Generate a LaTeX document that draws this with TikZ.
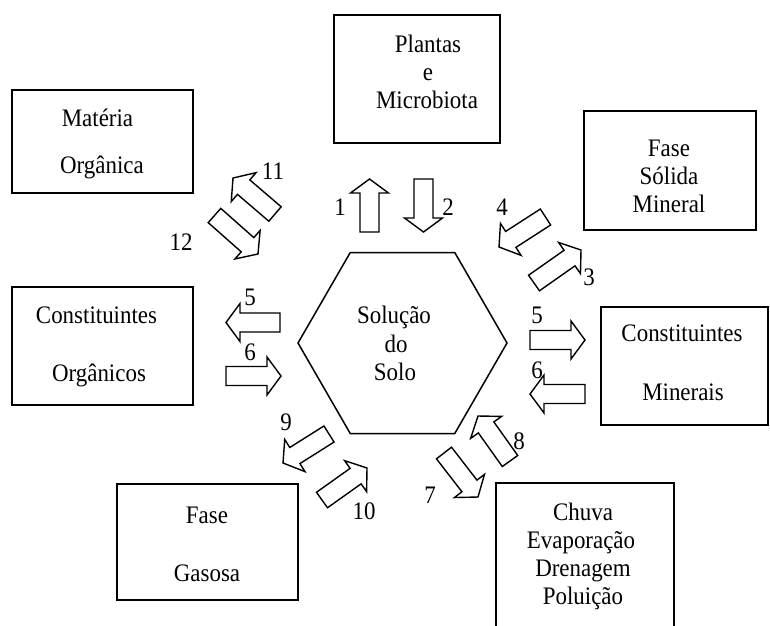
\documentclass[tikz,border=0pt]{standalone}
\usepackage{fontspec}
\setmainfont{Liberation Serif}[FakeStretch=0.91]
\usetikzlibrary{calc,shapes.geometric}
\tikzset{
  boxshape/.style={draw, line width=1.5pt, inner sep=0pt},
  txt/.style={anchor=base, inner sep=0pt, font=\fontsize{25.2}{28}\selectfont},
  num/.style={inner sep=0pt, font=\fontsize{25.2}{28}\selectfont},
  arrowline/.style={draw, line width=1.4pt, line join=miter, fill=white},
}
\newcommand{\blockarr}[2]{%
  \coordinate (bT) at #1; \coordinate (bP) at #2;
  \coordinate (bB) at ($(bP)!14pt!(bT)$);
  \path[arrowline] ($(bT)!9.5pt!90:(bP)$) -- ($(bB)!9.5pt!-90:(bT)$) -- ($(bB)!19pt!-90:(bT)$) -- (bP)
    -- ($(bB)!19pt!90:(bT)$) -- ($(bB)!9.5pt!90:(bT)$) -- ($(bT)!9.5pt!-90:(bP)$) -- cycle;}
\begin{document}
\begin{tikzpicture}[x=1pt,y=-1pt]
\useasboundingbox (0,0) rectangle (770,625);
\clip (0,0) rectangle (770,625);
% boxes
\node[boxshape, minimum width=166pt, minimum height=128pt] (plantas) at (417,79) {};
\node[boxshape, minimum width=181pt, minimum height=103pt] (materia) at (102.5,141.5) {};
\node[boxshape, minimum width=181pt, minimum height=118pt] (corg) at (102.5,346) {};
\node[boxshape, minimum width=181pt, minimum height=116pt] (gas) at (207.5,542) {};
\node[boxshape, minimum width=178pt, minimum height=170pt] (chuva) at (585,568) {};
\node[boxshape, minimum width=172pt, minimum height=119pt] (solida) at (670,170.5) {};
\node[boxshape, minimum width=167pt, minimum height=118pt] (cmin) at (684.5,366) {};
\node[draw, line width=1.5pt, regular polygon, regular polygon sides=6, minimum size=209pt, inner sep=0pt] (sol) at (402.5,343) {};
% texts
\node[txt] (t1a) at (428,52) {Plantas};
\node[txt] (t1b) at (428,80) {e};
\node[txt] (t1c) at (427,108) {Microbiota};
\node[txt] (t2a) at (97.5,126) {Matéria};
\node[txt] (t2b) at (102,173) {Orgânica};
\node[txt] (t3a) at (96.5,323) {Constituintes};
\node[txt] (t3b) at (99,381) {Orgânicos};
\node[txt] (t4a) at (394,323) {Solução};
\node[txt] (t4b) at (396,352) {do};
\node[txt] (t4c) at (395,380) {Solo};
\node[txt] (t5a) at (669,156) {Fase};
\node[txt] (t5b) at (669,184) {Sólida};
\node[txt] (t5c) at (669,212) {Mineral};
\node[txt] (t6a) at (682,341) {Constituintes};
\node[txt] (t6b) at (683,400) {Minerais};
\node[txt] (t7a) at (207,523) {Fase};
\node[txt] (t7b) at (207,581) {Gasosa};
\node[txt] (t8a) at (583,520) {Chuva};
\node[txt] (t8b) at (581,548) {Evaporação};
\node[txt] (t8c) at (583,576) {Drenagem};
\node[txt] (t8d) at (583,604) {Poluição};
% arrows
\blockarr{(369.5,232)}{(369.5,179)}
\blockarr{(423.5,179)}{(423.5,232)}
\blockarr{(275,214)}{(233,178)}
\blockarr{(214.5,215.5)}{(258,254)}
\blockarr{(545.5,217)}{(499,247)}
\blockarr{(534,283)}{(581,250)}
\blockarr{(280,322.5)}{(226,322.5)}
\blockarr{(226,376)}{(281,376)}
\blockarr{(530,340)}{(585,340)}
\blockarr{(585,394)}{(530,394)}
\blockarr{(329,434)}{(283,463)}
\blockarr{(322,500)}{(367,468)}
\blockarr{(510,461)}{(478,416)}
\blockarr{(444,453)}{(478,497)}
% numbers
\node[num] (n1) at (340,207) {1};
\node[num] (n2) at (448,207) {2};
\node[num] (n11) at (273,171) {11};
\node[num] (n12) at (181,242) {12};
\node[num] (n4) at (502,207) {4};
\node[num] (n3) at (589,277) {3};
\node[num] (n5a) at (250,297) {5};
\node[num] (n6a) at (250,352) {6};
\node[num] (n5b) at (537,315) {5};
\node[num] (n6b) at (537,370) {6};
\node[num] (n9) at (286,422) {9};
\node[num] (n10) at (364,511) {10};
\node[num] (n8) at (519,441) {8};
\node[num] (n7) at (430,495) {7};
\end{tikzpicture}
\end{document}
